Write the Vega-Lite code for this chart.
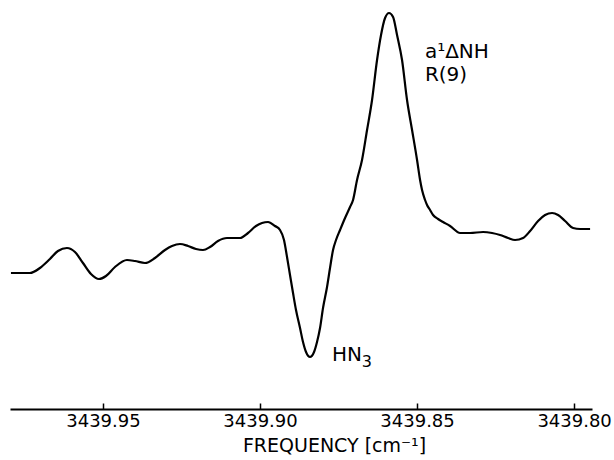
{
  "$schema": "https://vega.github.io/schema/vega-lite/v6.json",
  "width": 582,
  "height": 404,
  "padding": {"left": 6, "top": 5, "right": 3, "bottom": 5},
  "background": "white",
  "config": {
    "view": {"stroke": null},
    "font": "DejaVu Sans"
  },
  "datasets": {
    "curve": [
      {"freq": 3439.97930, "signal": 136},
      {"freq": 3439.97643, "signal": 136},
      {"freq": 3439.97325, "signal": 136},
      {"freq": 3439.97006, "signal": 141},
      {"freq": 3439.96688, "signal": 150},
      {"freq": 3439.96433, "signal": 158},
      {"freq": 3439.96146, "signal": 161},
      {"freq": 3439.95892, "signal": 157},
      {"freq": 3439.95637, "signal": 146},
      {"freq": 3439.95382, "signal": 135},
      {"freq": 3439.95127, "signal": 130},
      {"freq": 3439.94904, "signal": 133},
      {"freq": 3439.94618, "signal": 142},
      {"freq": 3439.94236, "signal": 149},
      {"freq": 3439.93981, "signal": 148},
      {"freq": 3439.93662, "signal": 146},
      {"freq": 3439.93344, "signal": 151},
      {"freq": 3439.93025, "signal": 159},
      {"freq": 3439.92803, "signal": 163},
      {"freq": 3439.92548, "signal": 165},
      {"freq": 3439.92293, "signal": 163},
      {"freq": 3439.92038, "signal": 160},
      {"freq": 3439.91815, "signal": 159},
      {"freq": 3439.91592, "signal": 162},
      {"freq": 3439.91338, "signal": 168},
      {"freq": 3439.91051, "signal": 171},
      {"freq": 3439.90860, "signal": 171},
      {"freq": 3439.90637, "signal": 171},
      {"freq": 3439.90382, "signal": 176},
      {"freq": 3439.90127, "signal": 183},
      {"freq": 3439.89936, "signal": 186},
      {"freq": 3439.89745, "signal": 187},
      {"freq": 3439.89522, "signal": 183},
      {"freq": 3439.89363, "signal": 179},
      {"freq": 3439.89236, "signal": 169},
      {"freq": 3439.89140, "signal": 152},
      {"freq": 3439.89045, "signal": 134},
      {"freq": 3439.88949, "signal": 116},
      {"freq": 3439.88854, "signal": 99},
      {"freq": 3439.88726, "signal": 81},
      {"freq": 3439.88631, "signal": 67},
      {"freq": 3439.88535, "signal": 57},
      {"freq": 3439.88408, "signal": 52},
      {"freq": 3439.88280, "signal": 57},
      {"freq": 3439.88185, "signal": 67},
      {"freq": 3439.88089, "signal": 81},
      {"freq": 3439.87994, "signal": 101},
      {"freq": 3439.87866, "signal": 122},
      {"freq": 3439.87771, "signal": 141},
      {"freq": 3439.87675, "signal": 159},
      {"freq": 3439.87580, "signal": 169},
      {"freq": 3439.87452, "signal": 179},
      {"freq": 3439.87293, "signal": 191},
      {"freq": 3439.87134, "signal": 202},
      {"freq": 3439.87038, "signal": 209},
      {"freq": 3439.86911, "signal": 229},
      {"freq": 3439.86752, "signal": 249},
      {"freq": 3439.86592, "signal": 279},
      {"freq": 3439.86433, "signal": 309},
      {"freq": 3439.86274, "signal": 349},
      {"freq": 3439.86147, "signal": 374},
      {"freq": 3439.86019, "signal": 391},
      {"freq": 3439.85892, "signal": 396},
      {"freq": 3439.85764, "signal": 392},
      {"freq": 3439.85637, "signal": 374},
      {"freq": 3439.85478, "signal": 349},
      {"freq": 3439.85319, "signal": 309},
      {"freq": 3439.85159, "signal": 279},
      {"freq": 3439.85000, "signal": 249},
      {"freq": 3439.84904, "signal": 229},
      {"freq": 3439.84841, "signal": 219},
      {"freq": 3439.84745, "signal": 209},
      {"freq": 3439.84682, "signal": 204},
      {"freq": 3439.84586, "signal": 199},
      {"freq": 3439.84490, "signal": 194},
      {"freq": 3439.84331, "signal": 190},
      {"freq": 3439.84172, "signal": 187},
      {"freq": 3439.83949, "signal": 183},
      {"freq": 3439.83631, "signal": 176},
      {"freq": 3439.83312, "signal": 176},
      {"freq": 3439.82898, "signal": 177},
      {"freq": 3439.82612, "signal": 176},
      {"freq": 3439.82357, "signal": 174},
      {"freq": 3439.82102, "signal": 171},
      {"freq": 3439.81879, "signal": 169},
      {"freq": 3439.81624, "signal": 171},
      {"freq": 3439.81401, "signal": 178},
      {"freq": 3439.81147, "signal": 188},
      {"freq": 3439.80924, "signal": 194},
      {"freq": 3439.80701, "signal": 196},
      {"freq": 3439.80510, "signal": 194},
      {"freq": 3439.80287, "signal": 188},
      {"freq": 3439.80032, "signal": 181},
      {"freq": 3439.79809, "signal": 180},
      {"freq": 3439.79491, "signal": 180}
    ],
    "labels": [
      {"freq": 3439.8475, "signal": 351, "label": "a¹ΔNH"},
      {"freq": 3439.8475, "signal": 328, "label": "R(9)"},
      {"freq": 3439.8771, "signal": 48, "label": "HN"}
    ],
    "subscripts": [
      {"freq": 3439.8676, "signal": 42, "label": "3"}
    ]
  },
  "layer": [
    {
      "data": {"name": "curve"},
      "mark": {"type": "line", "color": "black", "strokeWidth": 2.2, "interpolate": "monotone"},
      "encoding": {
        "x": {
          "field": "freq",
          "type": "quantitative",
          "scale": {"domain": [3439.7943, 3439.9796], "reverse": true, "nice": false, "zero": false},
          "axis": {
            "values": [3439.95, 3439.9, 3439.85, 3439.8],
            "format": ".2f",
            "title": "FREQUENCY  [cm⁻¹]",
            "grid": false,
            "domainColor": "black",
            "domainWidth": 2,
            "tickColor": "black",
            "tickWidth": 1.5,
            "tickSize": -6,
            "labelFont": "DejaVu Sans",
            "labelFontSize": 18,
            "labelColor": "black",
            "labelPadding": 9,
            "titleFont": "DejaVu Sans",
            "titleFontSize": 19,
            "titleFontWeight": "normal",
            "titleColor": "black",
            "titleX": 324,
            "titleY": 42,
            "titleBaseline": "alphabetic"
          }
        },
        "y": {
          "field": "signal",
          "type": "quantitative",
          "scale": {"domain": [0, 404], "nice": false, "zero": false},
          "axis": null
        }
      }
    },
    {
      "data": {"name": "labels"},
      "mark": {"type": "text", "align": "left", "baseline": "alphabetic", "fontSize": 20, "font": "DejaVu Sans", "color": "black"},
      "encoding": {
        "x": {"field": "freq", "type": "quantitative"},
        "y": {"field": "signal", "type": "quantitative"},
        "text": {"field": "label"}
      }
    },
    {
      "data": {"name": "subscripts"},
      "mark": {"type": "text", "align": "left", "baseline": "alphabetic", "fontSize": 16, "font": "DejaVu Sans", "color": "black"},
      "encoding": {
        "x": {"field": "freq", "type": "quantitative"},
        "y": {"field": "signal", "type": "quantitative"},
        "text": {"field": "label"}
      }
    }
  ]
}
